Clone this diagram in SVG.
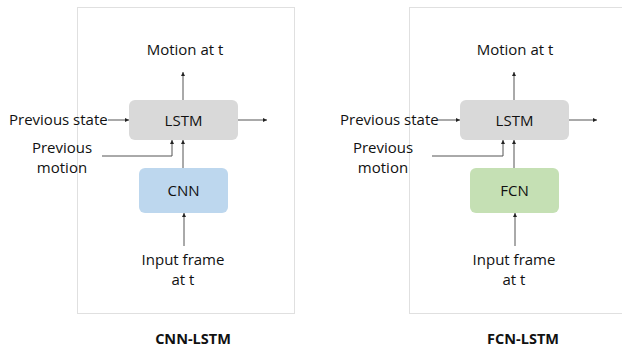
<svg xmlns="http://www.w3.org/2000/svg" width="622" height="347" viewBox="0 0 622 347">
  <style>
    text { font-family: "Open Sans", "Liberation Sans", sans-serif; font-size: 15px; fill: #111; }
    .title { font-weight: bold; font-size: 14.5px; }
    .frame { fill: #fff; stroke: #e0e0e0; stroke-width: 1; }
    .lstm { fill: #d9d9d9; }
    .cnn { fill: #bdd7ee; }
    .fcn { fill: #c5e0b4; }
    .wire { fill: none; stroke: #555; stroke-width: 1; marker-end: url(#arrow); }
  </style>
  <defs>
    <marker id="arrow" viewBox="0 0 6 6" refX="6" refY="3" markerWidth="4" markerHeight="4" orient="auto">
      <path d="M0,0 L6,3 L0,6 z" fill="#222"/>
    </marker>
  </defs>
  <rect width="622" height="347" fill="#fff"/>

  <!-- left panel: CNN-LSTM -->
  <rect id="frame-left" class="frame" x="77.5" y="7.5" width="217" height="306"/>
  <g id="lstm-left"><rect class="lstm" x="129" y="100" width="109" height="40" rx="6"/><text x="183.5" y="125.5" text-anchor="middle">LSTM</text></g>
  <g id="cnn"><rect class="cnn" x="139" y="168" width="89" height="45" rx="6"/><text x="183.5" y="196" text-anchor="middle">CNN</text></g>
  <g id="labels-left">
    <text x="185" y="55" text-anchor="middle">Motion at t</text>
    <text x="9" y="125">Previous state</text>
    <text x="62" y="153" text-anchor="middle">Previous</text>
    <text x="62" y="173" text-anchor="middle">motion</text>
    <text x="183" y="265" text-anchor="middle">Input frame</text>
    <text x="183" y="285" text-anchor="middle">at t</text>
    <text class="title" x="193" y="344" text-anchor="middle">CNN-LSTM</text>
  </g>

  <!-- right panel: FCN-LSTM -->
  <rect id="frame-right" class="frame" x="409.5" y="7.5" width="220" height="306"/>
  <g id="lstm-right"><rect class="lstm" x="460" y="100" width="109" height="40" rx="6"/><text x="514.5" y="125.5" text-anchor="middle">LSTM</text></g>
  <g id="fcn"><rect class="fcn" x="470" y="168" width="89" height="45" rx="6"/><text x="514.5" y="196" text-anchor="middle">FCN</text></g>
  <g id="labels-right">
    <text x="515" y="55" text-anchor="middle">Motion at t</text>
    <text x="340" y="125">Previous state</text>
    <text x="383" y="153" text-anchor="middle">Previous</text>
    <text x="383" y="173" text-anchor="middle">motion</text>
    <text x="514" y="265" text-anchor="middle">Input frame</text>
    <text x="514" y="285" text-anchor="middle">at t</text>
    <text class="title" x="523" y="344" text-anchor="middle">FCN-LSTM</text>
  </g>

  <g id="connectors">
    <path class="wire" d="M183,100 V72"/>
    <path class="wire" d="M108,120 H129"/>
    <path class="wire" d="M238,120 H267"/>
    <path class="wire" d="M102,156 H172 V140"/>
    <path class="wire" d="M183,168 V140"/>
    <path class="wire" d="M184,246 V213"/>

    <path class="wire" d="M514,100 V72"/>
    <path class="wire" d="M438,120 H460"/>
    <path class="wire" d="M569,120 H597"/>
    <path class="wire" d="M432,156 H503 V140"/>
    <path class="wire" d="M514,168 V140"/>
    <path class="wire" d="M515,246 V213"/>
  </g>
</svg>
